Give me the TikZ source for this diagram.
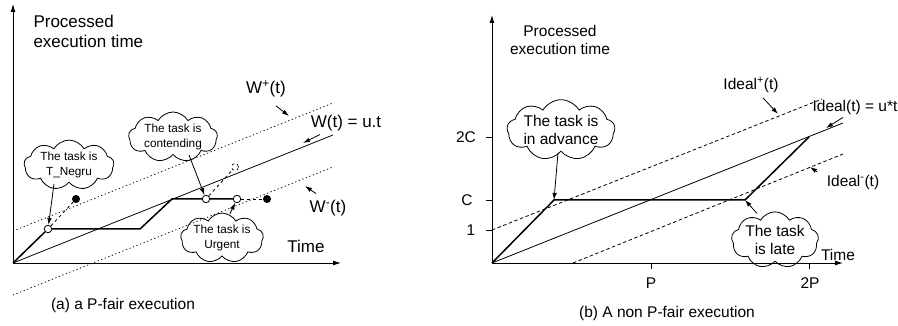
\documentclass[tikz,border=0pt]{standalone}
\usepackage{fontspec}
\setmainfont{Liberation Sans}
\usetikzlibrary{shapes.symbols,arrows.meta,calc}

\begin{document}
\begin{tikzpicture}[x=1pt,y=-1pt,
  axis/.style={line width=0.9pt,-{Latex[length=8pt,width=5pt]}},
  thin/.style={line width=0.8pt},
  bold/.style={line width=1.5pt},
  bound/.style={line width=0.8pt,dash pattern=on 1.2pt off 2.6pt},
  dbound/.style={line width=0.8pt,dash pattern=on 3.5pt off 2.5pt},
  pointer/.style={line width=0.8pt,-{Latex[length=7pt,width=4.5pt]}},
  state/.style={circle,draw,line width=0.8pt,fill=white,inner sep=0pt,minimum size=7.5pt},
  blackdot/.style={circle,fill=black,inner sep=0pt,minimum size=8pt},
  bubble/.style={cloud,draw,line width=0.8pt,cloud puffs=9,cloud puff arc=120,
    cloud ignores aspect,inner sep=0pt,align=center},
  bigtxt/.style={font=\fontsize{17}{20}\selectfont},
  midtxt/.style={font=\fontsize{15.5}{18.5}\selectfont},
  smalltxt/.style={font=\fontsize{11.8}{14.5}\selectfont},
  tick/.style={line width=0.8pt}
]
\useasboundingbox (0,0) rectangle (898,326);

% ---------------- (a) a P-fair execution ----------------
\coordinate (O1) at (13,263);
\coordinate (Y1) at (13,4);
\coordinate (X1) at (341,263);
\draw[axis] (O1) -- (Y1);
\draw[axis] (O1) -- (X1);

\node[bigtxt,align=left,anchor=north west] (ylabA) at (30,12) {Processed\\execution time};
\node[bigtxt] (tlabA) at (306,246) {Time};

% ideal line and its bounds
\coordinate (Wend) at (333,135);
\coordinate (WpS) at (13,231);
\coordinate (WpE) at (333,103);
\coordinate (WmS) at (13,295);
\coordinate (WmE) at (333,167);
\draw[thin] (O1) -- (Wend);
\draw[bound] (WpS) -- (WpE);
\draw[bound] (WmS) -- (WmE);

% executed work
\node[state] (k1) at (48,229) {};
\coordinate (p1) at (140,229);
\coordinate (p2) at (172,199);
\node[state] (k2) at (206,199) {};
\node[state] (k3) at (237,199) {};
\node[blackdot] (d1) at (76,199) {};
\node[blackdot] (d3) at (267,199) {};
\node[circle,draw,dashed,line width=0.6pt,inner sep=0pt,minimum size=7pt] (d2) at (235,167) {};

\draw[bold] (O1) -- (k1) -- (p1) -- (p2) -- (k2) -- (k3);
\draw[thin,dashed] (k1) -- (d1);
\draw[thin,dashed] (k2) -- (d2);
\draw[thin,dashed] (k3) -- (d3);

% labels of the lines
\node[bigtxt] (lWp) at (266,89) {W\textsuperscript{+}(t)};
\node[bigtxt] (lW) at (346,123) {W(t) = u.t};
\node[bigtxt] (lWm) at (328,208) {W\textsuperscript{-}(t)};
\coordinate (aWp) at (289,116);
\coordinate (aW) at (303,143);
\coordinate (aWm) at (305,186);
\draw[pointer] ($(lWp.south)+(10,5)$) -- (aWp);
\draw[pointer] ($(lW.south)+(-26,0)$) -- (aW);
\draw[pointer] ($(lWm.north)+(-12,-3)$) -- (aWm);

% state clouds
\node[bubble,smalltxt,minimum width=90pt,minimum height=36pt] (cNeg) at (69,165) {The task is\\T\_Negru};
\node[bubble,smalltxt,minimum width=89pt,minimum height=32pt] (cCont) at (173,137) {The task is\\contending};
\node[bubble,smalltxt,minimum width=78pt,minimum height=42pt] (cUrg) at (222,238) {The task is\\Urgent};
\draw[pointer] ($(cNeg.south)+(-15,1)$) -- (k1);
\draw[pointer] ($(cCont.south)+(16,0)$) -- (k2);
\draw[pointer] ($(cUrg.north)+(8,1)$) -- (k3);

\node[midtxt] (capA) at (123,305) {(a) a P-fair execution};

% ---------------- (b) A non P-fair execution ----------------
\coordinate (O2) at (492,263);
\coordinate (Y2) at (492,15);
\coordinate (X2) at (843,263);
\draw[axis] (O2) -- (Y2);
\draw[axis] (O2) -- (X2);

\node[midtxt,align=center] (ylabB) at (560,40) {Processed\\execution time};
\node[midtxt] (tlabB) at (838,255) {Time};

% ticks
\coordinate (tP) at (651,263);
\coordinate (t2P) at (809,263);
\coordinate (tC) at (492,200);
\coordinate (t1) at (492,230);
\coordinate (t2C) at (492,137);
\draw[tick] (tP) -- ++(0,6);
\draw[tick] (t2P) -- ++(0,6);
\draw[tick] (tC) -- ++(-6,0);
\draw[tick] (t1) -- ++(-6,0);
\draw[tick] (t2C) -- ++(-6,0);
\node[midtxt] (lP) at (651,283) {P};
\node[midtxt] (l2P) at (810,283) {2P};
\node[midtxt] (lC) at (467,200) {C};
\node[midtxt] (l1) at (471,230) {1};
\node[midtxt] (l2C) at (466,137) {2C};

% ideal line and bounds
\coordinate (Iend) at (843,123);
\coordinate (IpE) at (822,99);
\coordinate (ImS) at (573,263);
\coordinate (ImE) at (843,154);
\draw[thin] (O2) -- (Iend);
\draw[dbound] (t1) -- (IpE);
\draw[dbound] (ImS) -- (ImE);

% executed work
\coordinate (q1) at (554,200);
\coordinate (q2) at (745,200);
\coordinate (q3) at (809,137);
\draw[bold] (O2) -- (q1) -- (q2) -- (q3);

% labels of the lines
\node[midtxt] (lIp) at (751,85) {Ideal\textsuperscript{+}(t)};
\node[midtxt,inner sep=1pt] (lI) at (855,107) {Ideal(t) = u*t};
\node[midtxt] (lIm) at (853,182) {Ideal\textsuperscript{-}(t)};
\coordinate (aIp) at (778,114);
\coordinate (aI) at (826,128);
\coordinate (aIm) at (810,167);
\draw[pointer] ($(lIp.south)+(12,2)$) -- (aIp);
\draw[pointer] ($(lI.south)+(-12,2)$) -- (aI);
\draw[pointer] ($(lIm.west)+(-6,-10)$) -- (aIm);

% state clouds
\node[bubble,midtxt,minimum width=105pt,minimum height=48pt] (cAdv) at (561,130) {The task is\\in advance};
\node[bubble,midtxt,minimum width=87pt,minimum height=52pt] (cLate) at (775,240) {The task\\is late};
\draw[pointer] ($(cAdv.south)+(-3,1)$) -- (q1);
\draw[pointer] ($(cLate.north)+(-18,2)$) -- (q2);

\node[midtxt] (capB) at (667,313) {(b) A non P-fair execution};
\end{tikzpicture}
\end{document}
